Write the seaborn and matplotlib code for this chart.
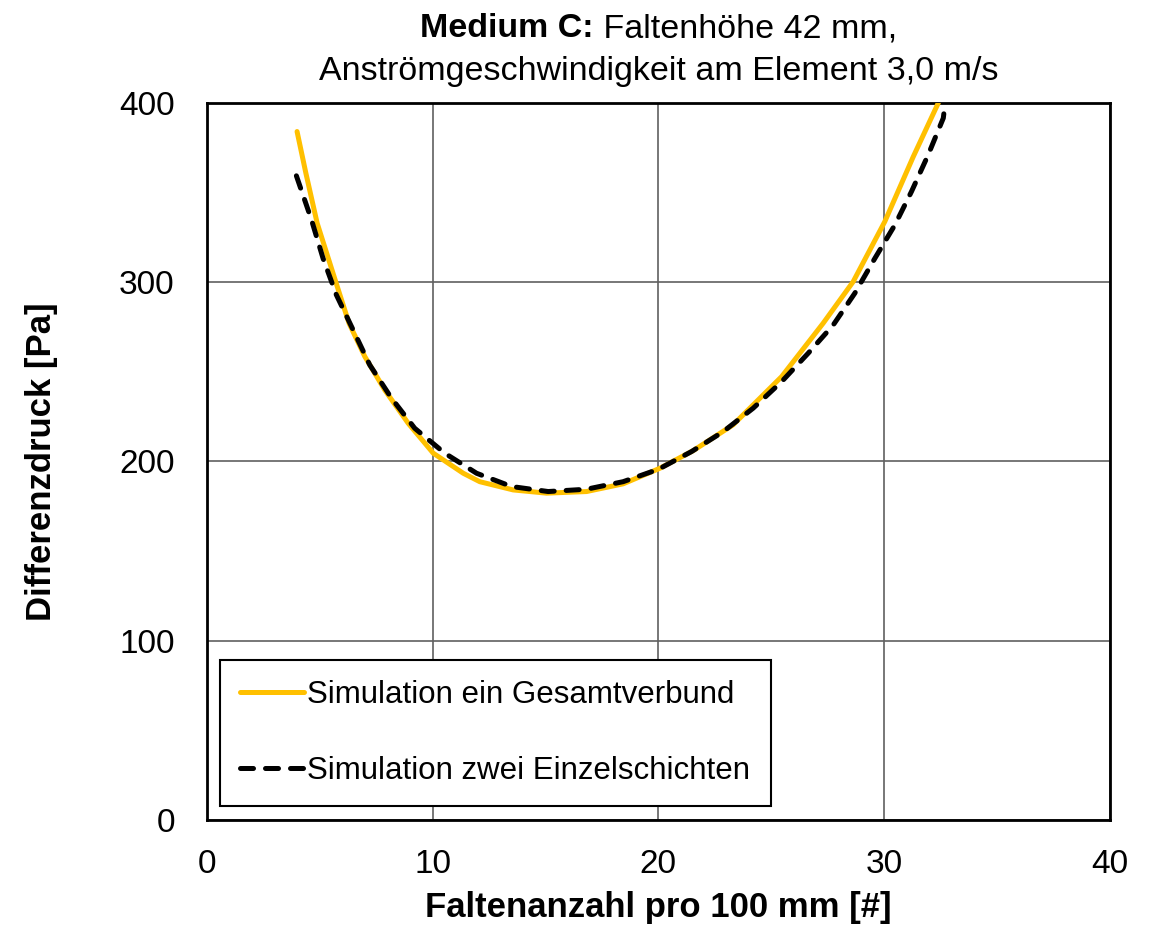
import numpy as np
import pandas as pd
import matplotlib
matplotlib.use("Agg")
import matplotlib.pyplot as plt
import seaborn as sns

# Faltenanzahl pro 100 mm and Differenzdruck [Pa] for both simulations
x_gesamt = [4.0, 4.39, 4.89, 5.71, 6.30, 7.0, 7.88, 8.92, 10.03, 11.36, 12.09,
            13.57, 15.05, 16.82, 18.44, 20.07, 21.54, 23.31, 25.46, 27.3,
            28.63, 30.03, 31.29, 32.4]
y_gesamt = [384, 360.8, 332.9, 300.3, 277.1, 258.5, 239.9, 221.3, 204.6, 193.4,
            188.7, 184.1, 182.3, 183.2, 187.5, 196.2, 206, 220.4, 247.3, 277.1,
            300.3, 333.8, 370, 400]

x_einzel = [3.97, 4.64, 5.15, 5.74, 6.48, 7.22, 8.18, 9.21, 10.54, 11.95, 13.5,
            15.12, 16.82, 18.44, 20.0, 21.47, 22.87, 24.2, 25.46, 26.64, 27.74,
            28.7, 29.59, 30.48, 31.21, 31.95, 32.62, 32.7]
y_einzel = [359.3, 334.7, 313.3, 292.9, 273.4, 253.8, 235.3, 218.5, 204.6,
            193.4, 186.0, 183.2, 184.5, 188.7, 195.6, 205.5, 216.6, 229.7,
            244.5, 260.4, 276.0, 293.8, 313.3, 332.0, 350.5, 371.0, 391.5, 400]

label_gesamt = "Simulation ein Gesamtverbund"
label_einzel = "Simulation zwei Einzelschichten"

x_ticks = [0, 10, 20, 30, 40]
y_ticks = [0, 100, 200, 300, 400]

df = pd.concat([
    pd.DataFrame({"x": x_gesamt, "y": y_gesamt, "serie": label_gesamt}),
    pd.DataFrame({"x": x_einzel, "y": y_einzel, "serie": label_einzel}),
], ignore_index=True)

sns.set_style("white")
plt.rcParams["font.family"] = ["Liberation Sans", "DejaVu Sans"]
plt.rcParams["text.color"] = "black"
plt.rcParams["axes.labelcolor"] = "black"
plt.rcParams["xtick.color"] = "black"
plt.rcParams["ytick.color"] = "black"

fig = plt.figure(figsize=(11.55, 9.35), dpi=100)
ax = fig.add_axes([0.179, 0.123, 0.782, 0.767])

sns.lineplot(data=df, x="x", y="y", hue="serie", style="serie",
             palette={label_gesamt: "#FFC000", label_einzel: "black"},
             dashes={label_gesamt: "", label_einzel: (2.6, 2.4)},
             linewidth=3.6, sort=False, estimator=None, ax=ax, legend=False)

lines = ax.get_lines()
for ln in lines:
    ln.set_dash_capstyle("round")
    ln.set_solid_capstyle("round")
    ln.set_solid_joinstyle("round")
# yellow line beneath the dashed one
lines[0].set_zorder(3)
lines[1].set_zorder(4)

ax.set_xlim(0, 40)
ax.set_ylim(0, 400)
ax.set_xticks(x_ticks)
ax.set_yticks(y_ticks)
ax.tick_params(axis="both", labelsize=24, direction="out", length=7,
               width=1.5, color="black", labelcolor="black")
ax.tick_params(axis="x", pad=14)
ax.tick_params(axis="y", pad=16)
ax.grid(True, color="#606060", linewidth=1.2)
ax.set_axisbelow(True)
for sp in ax.spines.values():
    sp.set_color("black")
    sp.set_linewidth(2.0)

ax.set_xlabel("Faltenanzahl pro 100 mm [#]", fontsize=25, fontweight="bold",
              labelpad=8)
ax.set_ylabel("Differenzdruck [Pa]", fontsize=25, fontweight="bold",
              labelpad=44)

# legend built from the drawn lines
leg = ax.legend(lines, [label_gesamt, label_einzel], loc="lower left",
                bbox_to_anchor=(0.0144, 0.0195), borderaxespad=0,
                fontsize=22.5, frameon=True, fancybox=False,
                labelspacing=1.45, handlelength=2.05, handletextpad=0.1,
                borderpad=0.65)
frame = leg.get_frame()
frame.set_edgecolor("black")
frame.set_linewidth(1.5)
frame.set_alpha(1)
leg.set_zorder(10)

# two-line title, first part bold
fig.canvas.draw()
renderer = fig.canvas.get_renderer()
cx = (ax.get_position().x0 + ax.get_position().x1) / 2
y1 = 1 - 37 / 935
y2 = 1 - 80 / 935
t_bold = fig.text(0, y1, "Medium C:", fontsize=24.5, fontweight="bold",
                  ha="left", va="baseline")
t_reg = fig.text(0, y1, " Faltenhöhe 42 mm,", fontsize=24.5,
                 ha="left", va="baseline")
w_bold = t_bold.get_window_extent(renderer).width / fig.bbox.width
w_reg = t_reg.get_window_extent(renderer).width / fig.bbox.width
x_start = cx - (w_bold + w_reg) / 2
t_bold.set_x(x_start)
t_reg.set_x(x_start + w_bold)
fig.text(cx, y2, "Anströmgeschwindigkeit am Element 3,0 m/s", fontsize=24.5,
         ha="center", va="baseline")

fig.savefig("out.png", dpi=100)
